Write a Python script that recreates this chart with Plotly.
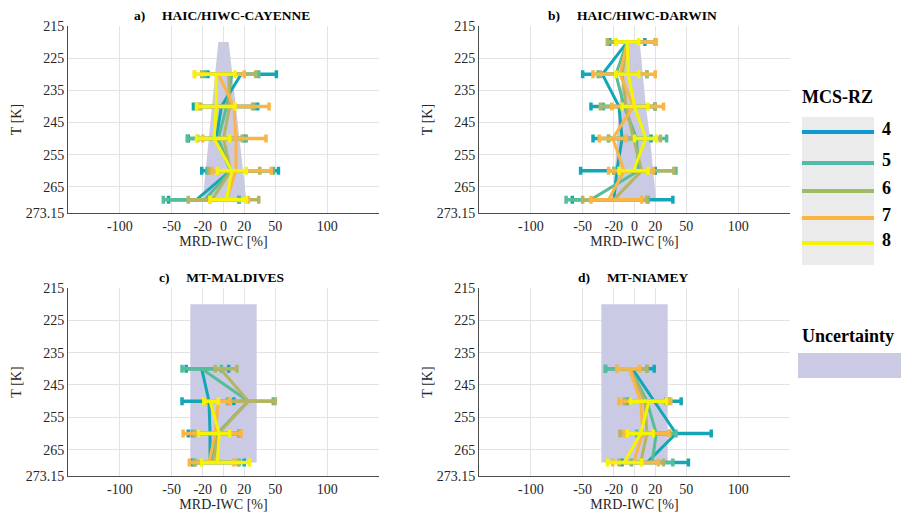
import plotly.graph_objects as go

# ---------------- data ----------------
RZ = ["4", "5", "6", "7", "8"]
TRACE_COLORS = ["#12a6b6", "#55be96", "#b3b563", "#fbb545", "#f5f500"]
LEGEND_COLORS = ["#0f9bd0", "#4fbcaa", "#9cbb64", "#fbb443", "#f5f500"]
UNC_COLOR = "#cacae4"

Y_TICKS = [215, 225, 235, 245, 255, 265, 273.15]
Y_TICKTEXT = ["215", "225", "235", "245", "255", "265", "273.15"]
X_TICKS = [-100, -50, -20, 0, 20, 50, 100]
X_TICKTEXT = ["-100", "-50", "-20", "0", "20", "50", "100"]

TITLES = ["a)\u00a0\u00a0\u00a0\u00a0\u00a0HAIC/HIWC-CAYENNE",
          "b)\u00a0\u00a0\u00a0\u00a0\u00a0HAIC/HIWC-DARWIN",
          "c)\u00a0\u00a0\u00a0\u00a0\u00a0MT-MALDIVES",
          "d)\u00a0\u00a0\u00a0\u00a0\u00a0MT-NIAMEY"]

# Panel a
A_T = [230, 240, 250, 260, 269]
A_MEAN = [[17, -2, -7, 7, -26],
          [8, 3, -5, 7, -18],
          [5, 6, 0, 7, -11],
          [-5, 10, 12, 12, 3],
          [-7, -7, -9, 8, 3]]
A_LO = [[-15, -29, -34, -21, -53],
        [-18, -26, -35, -16, -58],
        [-21, -22, -25, -14, -34],
        [-28, -24, -20, -11, -13],
        [-28, -26, -26, -6, -13]]
A_HI = [[51, 33, 20, 53, 15],
        [34, 30, 22, 48, 15],
        [31, 28, 18, 35, 34],
        [20, 44, 41, 46, 24],
        [11, 11, 6, 22, 22]]
A_UNC_T = [220, 269]
A_UNC_L = [-5, -20]
A_UNC_R = [5, 22]

# Panel b
B_T = [220, 230, 240, 250, 260, 269]
B_MEAN = [[-7, -31, -15, -12, -17, -20],
          [-7, -18, -10, 2, 4, -42],
          [-7, -12, -8, -1, 7, -20],
          [-7, -14, -1, -21, -10, -25],
          [-7, -6, 0, 11, -1, None]]
B_LO = [[-24, -50, -42, -40, -52, -60],
        [-26, -35, -30, -25, -20, -66],
        [-26, -33, -33, -25, -20, -50],
        [-18, -40, -22, -34, -25, -42],
        [-18, -18, -12, 0, -15, None]]
B_HI = [[10, -12, 20, 16, 20, 37],
        [20, 12, 20, 31, 40, 13],
        [21, 12, 20, 25, 38, 12],
        [21, 20, 28, -8, 18, 7],
        [4, 4, 13, 21, 13, None]]
B_UNC_T = [220, 230, 240, 250, 260, 269]
B_UNC_L = [-5, -11, -15, -17, -19, -20]
B_UNC_R = [5, 8, 11, 15, 18, 21]

# Panel c
C_T = [240, 250, 260, 269]
C_MEAN = [[-21, -14, -13, -13],
          [-21, 24, -6, -11],
          [-3, 24, -5, -10],
          [None, -5, -8, -14],
          [None, -13, -4, -6]]
C_LO = [[-36, -40, -34, -30],
        [-40, 4, -30, -29],
        [-8, 5, -28, -27],
        [None, -18, -39, -33],
        [None, -19, -24, -21]]
C_HI = [[5, 10, 16, 20],
        [-2, 48, 15, 15],
        [13, 50, 15, 14],
        [None, 6, 17, 10],
        [None, -5, 6, 25]]
C_UNC_T = [220, 269]
C_UNC_L = [-32, -32]
C_UNC_R = [32, 32]

# Panel d
D_T = [240, 250, 260, 269]
D_MEAN = [[-2, 19, 40, 12],
          [-4, 12, 21, 17],
          [-4, 10, 12, 6],
          [-5, 6, 8, -1],
          [None, 14, 6, -10]]
D_LO = [[-28, -5, 7, -12],
        [-28, -8, 2, -3],
        [-17, -10, -14, -15],
        [-17, -15, -10, -21],
        [None, -4, -7, -26]]
D_HI = [[19, 45, 74, 52],
        [12, 33, 40, 37],
        [12, 30, 34, 28],
        [5, 35, 33, 23],
        [None, 31, 18, 7]]
D_UNC_T = [220, 269]
D_UNC_L = [-32, -32]
D_UNC_R = [32, 32]

PANELS = [
    (A_T, A_MEAN, A_LO, A_HI, A_UNC_T, A_UNC_L, A_UNC_R),
    (B_T, B_MEAN, B_LO, B_HI, B_UNC_T, B_UNC_L, B_UNC_R),
    (C_T, C_MEAN, C_LO, C_HI, C_UNC_T, C_UNC_L, C_UNC_R),
    (D_T, D_MEAN, D_LO, D_HI, D_UNC_T, D_UNC_L, D_UNC_R),
]

# ---------------- layout geometry ----------------
W, H = 901, 516
BOXES = [(68, 379, 26, 213), (479, 790, 26, 213),
         (68, 379, 288, 476), (479, 790, 288, 476)]

FONT = "Liberation Serif, Times New Roman, serif"

fig = go.Figure()

for i, (T, MEAN, LO, HI, UT, UL, UR) in enumerate(PANELS):
    xa = "x" if i == 0 else f"x{i+1}"
    ya = "y" if i == 0 else f"y{i+1}"
    fig.add_trace(go.Scatter(
        x=list(UL) + list(UR)[::-1], y=list(UT) + list(UT)[::-1],
        fill="toself", fillcolor=UNC_COLOR, line=dict(width=0),
        mode="lines", hoverinfo="skip", showlegend=False, xaxis=xa, yaxis=ya))
    for s in range(5):
        m = MEAN[s]
        plus = [None if v is None else HI[s][k] - v for k, v in enumerate(m)]
        minus = [None if v is None else v - LO[s][k] for k, v in enumerate(m)]
        fig.add_trace(go.Scatter(
            x=m, y=T, mode="lines", xaxis=xa, yaxis=ya, showlegend=False,
            line=dict(color=TRACE_COLORS[s], width=3),
            error_x=dict(type="data", symmetric=False, array=plus, arrayminus=minus,
                         color=TRACE_COLORS[s], thickness=3.5, width=4),
            name="MCS-RZ " + RZ[s]))

layout = dict(width=W, height=H, margin=dict(l=0, r=0, t=0, b=0, autoexpand=False),
              paper_bgcolor="white", plot_bgcolor="white",
              font=dict(family=FONT, size=14, color="#262626"))

for i, (l, r, t, b) in enumerate(BOXES):
    xk = "xaxis" if i == 0 else f"xaxis{i+1}"
    yk = "yaxis" if i == 0 else f"yaxis{i+1}"
    xa = "x" if i == 0 else f"x{i+1}"
    ya = "y" if i == 0 else f"y{i+1}"
    layout[xk] = dict(domain=[l / W, r / W], anchor=ya, range=[-150, 150],
                      tickvals=X_TICKS, ticktext=X_TICKTEXT, showgrid=True,
                      gridcolor="#e3e3e3", gridwidth=1, zeroline=False,
                      showline=True, linecolor="#4d4d4d", linewidth=1,
                      ticks="", tickfont=dict(size=14, color="#262626"),
                      automargin=False,
                      title=dict(text="MRD-IWC [%]", font=dict(size=14, color="#262626"), standoff=2),
                      fixedrange=True)
    layout[yk] = dict(domain=[1 - b / H, 1 - t / H], anchor=xa, range=[273.15, 215],
                      tickvals=Y_TICKS, ticktext=Y_TICKTEXT, showgrid=True,
                      gridcolor="#e3e3e3", gridwidth=1, zeroline=False,
                      showline=True, linecolor="#4d4d4d", linewidth=1,
                      ticks="", tickfont=dict(size=14, color="#262626"),
                      automargin=False,
                      title=dict(text="T [K]", font=dict(size=14, color="#262626"), standoff=0),
                      fixedrange=True)

fig.update_layout(**layout)

annotations = []
shapes = []
for i, (l, r, t, b) in enumerate(BOXES):
    annotations.append(dict(text="<b>" + TITLES[i] + "</b>", xref="paper", yref="paper",
                            x=((l + r) / 2 - 2) / W, y=1 - (t - 11) / H, xanchor="center",
                            yanchor="middle", showarrow=False,
                            font=dict(size=13.5, color="black", family=FONT)))

annotations.append(dict(text="<b>MCS-RZ</b>", xref="paper", yref="paper", x=800 / W,
                        y=1 - 97 / H, xanchor="left", yanchor="middle", showarrow=False,
                        font=dict(size=18, color="black", family=FONT)))
shapes.append(dict(type="rect", xref="paper", yref="paper", x0=802 / W, x1=874 / W,
                   y0=1 - 265 / H, y1=1 - 117 / H, fillcolor="#ebebeb", line=dict(width=0)))
LEG_Y = [132, 163, 191, 218, 243]
for s in range(5):
    shapes.append(dict(type="line", xref="paper", yref="paper", x0=802 / W, x1=874 / W,
                       y0=1 - LEG_Y[s] / H, y1=1 - LEG_Y[s] / H,
                       line=dict(color=LEGEND_COLORS[s], width=4)))
    annotations.append(dict(text="<b>" + RZ[s] + "</b>", xref="paper", yref="paper",
                            x=880 / W, y=1 - (LEG_Y[s] - 3) / H, xanchor="left",
                            yanchor="middle", showarrow=False,
                            font=dict(size=18, color="black", family=FONT)))
annotations.append(dict(text="<b>Uncertainty</b>", xref="paper", yref="paper", x=800 / W,
                        y=1 - 336 / H, xanchor="left", yanchor="middle", showarrow=False,
                        font=dict(size=18, color="black", family=FONT)))
shapes.append(dict(type="rect", xref="paper", yref="paper", x0=798 / W, x1=901 / W,
                   y0=1 - 378 / H, y1=1 - 353 / H, fillcolor=UNC_COLOR, line=dict(width=0)))

fig.update_layout(annotations=annotations, shapes=shapes)
fig.write_html("out.html", config={"displayModeBar": False},
               post_script="document.body.style.margin='0';document.body.style.overflow='hidden';")
